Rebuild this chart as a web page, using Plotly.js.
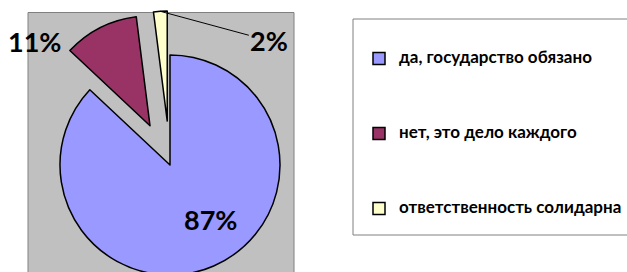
<!DOCTYPE html>
<html>
<head>
<meta charset="utf-8">
<script src="https://cdn.plot.ly/plotly-3.0.1.min.js"></script>
<style>
html,body{margin:0;padding:0;overflow:hidden;background:#fff;width:627px;height:272px;}
#chart{width:627px;height:330px;}
</style>
</head>
<body>
<div id="chart"></div>
<script>
var categories = ['да, государство обязано', 'нет, это дело каждого', 'ответственность солидарна'];
var values = [87, 11, 2];
var colors = ['#9999FF', '#993366', '#FFFFCC'];
var pulls = [0, 0.4, 0.4];

var W = 627, H = 330;
var domX = [16 / W, 324 / W], domY = [1 - 319 / H, 1 - 11 / H];

var legendLabels = categories.map(function (c) {
  return '<br><br><span style="font-size:17px">' + c + '</span><br><br>';
});

var total = values.reduce(function (a, b) { return a + b; }, 0);
var pctText = values.map(function (v) { return Math.round(100 * v / total) + '%'; });

// pie geometry (same rule Plotly uses) to anchor the percent labels
var boxW = W * (domX[1] - domX[0]), boxH = H * (domY[1] - domY[0]);
var maxPull = Math.max.apply(null, pulls);
var R = Math.min(boxW, boxH) / 2 / (1 + maxPull);
var CX = W * (domX[0] + domX[1]) / 2, CY = H * (1 - (domY[0] + domY[1]) / 2);
function slicePoint(i, rad) {
  var before = 0;
  for (var k = 0; k < i; k++) before += values[k];
  var mid = 2 * Math.PI * (before + values[i] / 2) / total;
  var sx = Math.sin(mid), sy = -Math.cos(mid);
  var px = CX + pulls[i] * R * sx + rad * R * sx;
  var py = CY + pulls[i] * R * sy + rad * R * sy;
  return [px / W, 1 - py / H];
}

var labelFont = { family: 'Lato, Roboto, sans-serif', size: 27, weight: 'bold', color: '#000' };
var tip2 = slicePoint(2, 1.0);
var annotations = [
  { xref: 'paper', yref: 'paper', x: 210 / W, y: 1 - 219 / H, text: pctText[0],
    xanchor: 'center', yanchor: 'middle', showarrow: false, font: labelFont },
  { xref: 'paper', yref: 'paper', x: 34 / W, y: 1 - 41.5 / H, text: pctText[1],
    xanchor: 'center', yanchor: 'middle', showarrow: false, font: labelFont },
  { xref: 'paper', yref: 'paper', x: tip2[0], y: tip2[1], text: pctText[2],
    xanchor: 'center', yanchor: 'middle',
    showarrow: true, arrowhead: 0, arrowwidth: 1, arrowcolor: '#000',
    axref: 'pixel', ayref: 'pixel', ax: 109, ay: 29.5, font: labelFont }
];

var trace = {
  type: 'pie',
  labels: legendLabels,
  values: values,
  sort: false,
  direction: 'clockwise',
  rotation: 0,
  pull: pulls,
  marker: { colors: colors, line: { color: '#000', width: 1.5 } },
  textinfo: 'none',
  hoverinfo: 'percent',
  domain: { x: domX, y: domY },
  automargin: false
};

var layout = {
  width: W, height: H,
  margin: { l: 0, r: 0, t: 0, b: 0 },
  paper_bgcolor: '#fff',
  showlegend: true,
  legend: {
    x: 359 / W, xanchor: 'left',
    y: 1 - 16 / H, yanchor: 'top',
    bgcolor: 'rgba(0,0,0,0)', borderwidth: 0,
    font: { family: 'Lato, Roboto, sans-serif', size: 11.08, weight: 'bold', color: '#000' },
    valign: 'middle'
  },
  annotations: annotations,
  shapes: [
    { type: 'rect', xref: 'paper', yref: 'paper', layer: 'below',
      x0: 28 / W, x1: 294 / W, y0: -0.1, y1: 1 - 12.5 / H,
      fillcolor: '#C0C0C0', line: { color: '#808080', width: 1 } },
    { type: 'rect', xref: 'paper', yref: 'paper', layer: 'below',
      x0: 353 / W, x1: 1.05, y0: 1 - 235 / H, y1: 1 - 19 / H,
      fillcolor: '#fff', line: { color: '#808080', width: 1 } }
  ]
};

Plotly.newPlot('chart', [trace], layout, { displayModeBar: false, staticPlot: true });
</script>
</body>
</html>
